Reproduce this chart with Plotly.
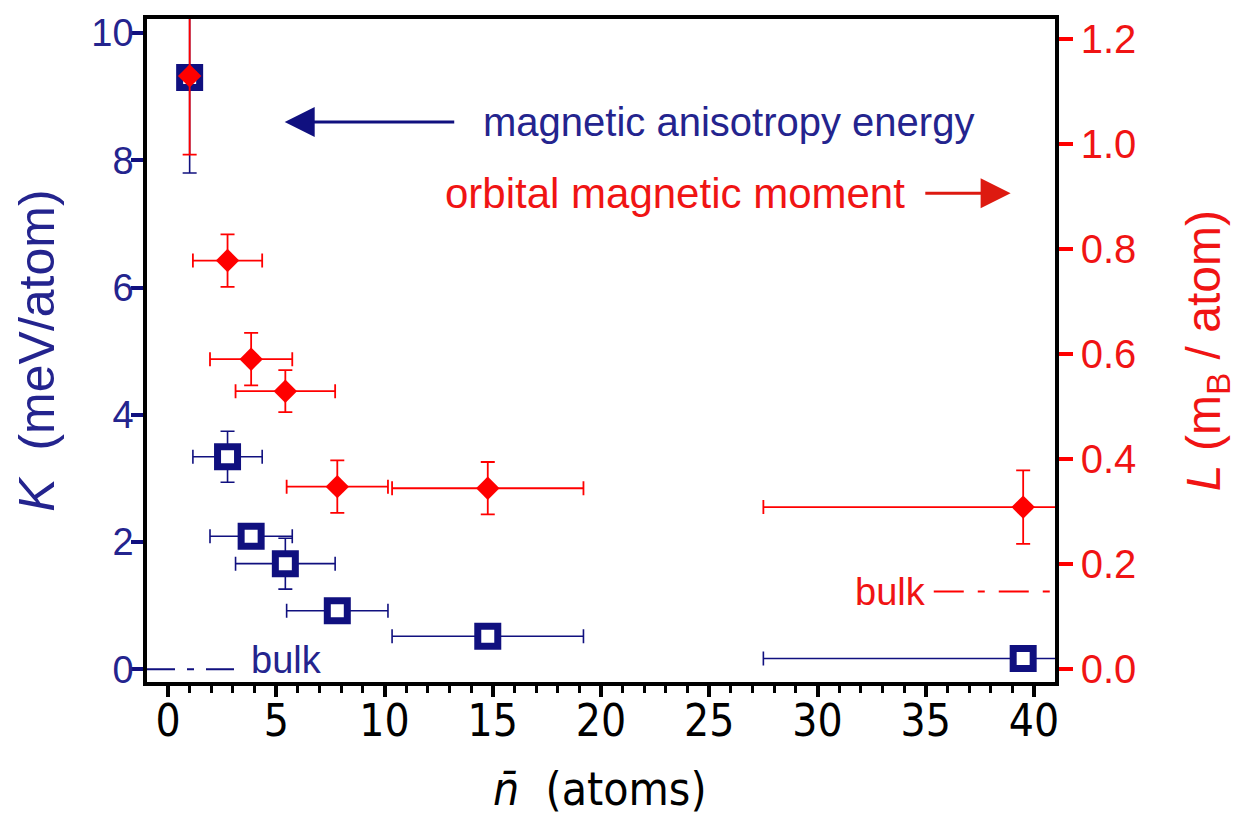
import plotly.graph_objects as go

# Cluster size n-bar (atoms) with size spread
n_bar = [1.0, 2.75, 3.84, 5.42, 7.82, 14.77, 39.5]
n_err = [0.0, 1.6, 1.9, 2.3, 2.34, 4.42, 12.0]

# Magnetic anisotropy energy K (meV/atom)
K = [9.3, 3.34, 2.09, 1.66, 0.92, 0.52, 0.17]
K_err = [1.5, 0.4, 0.0, 0.4, 0.0, 0.0, 0.0]

# Orbital magnetic moment L (mB/atom)
L = [1.13, 0.778, 0.59, 0.529, 0.347, 0.344, 0.308]
L_err = [0.15, 0.05, 0.05, 0.04, 0.05, 0.05, 0.07]

# Bulk reference values
bulk_K = 0.0
bulk_L = 0.147
bulk_K_x = [-0.97, 3.13]
bulk_L_x = [35.37, 40.97]

x_ticks = [0, 5, 10, 15, 20, 25, 30, 35, 40]
K_ticks = [0, 2, 4, 6, 8, 10]
L_ticks = [0.0, 0.2, 0.4, 0.6, 0.8, 1.0, 1.2]

NAVY = "#10107f"
BLUE_TXT = "#24248e"
RED = "#ff0000"
RED_TXT = "#f01414"
RED_ARROW = "#dd1a10"

FONT = "Liberation Sans, Arial, Helvetica, sans-serif"
NARROW = "Liberation Sans Narrow, Arial Narrow, DejaVu Sans Condensed, sans-serif"

fig = go.Figure()

# bulk reference lines
fig.add_trace(go.Scatter(
    x=bulk_K_x, y=[bulk_K, bulk_K], mode="lines",
    line=dict(color=NAVY, width=2, dash="28px,12px,7px,12px"),
    yaxis="y", showlegend=False, hoverinfo="skip"))
fig.add_trace(go.Scatter(
    x=bulk_L_x, y=[bulk_L, bulk_L], mode="lines",
    line=dict(color=RED, width=2, dash="30px,14px,7px,14px"),
    yaxis="y2", showlegend=False, hoverinfo="skip"))

# K: open navy squares
fig.add_trace(go.Scatter(
    x=n_bar, y=K, mode="markers", yaxis="y", showlegend=False,
    marker=dict(symbol="square", size=20, color="white",
                line=dict(color=NAVY, width=7)),
    error_x=dict(type="data", array=n_err, color=NAVY, thickness=1.6, width=7),
    error_y=dict(type="data", array=K_err, color=NAVY, thickness=1.6, width=7),
))

# L: red diamonds
fig.add_trace(go.Scatter(
    x=n_bar, y=L, mode="markers", yaxis="y2", showlegend=False,
    marker=dict(symbol="diamond", size=18, color=RED, line=dict(width=0)),
    error_x=dict(type="data", array=n_err, color=RED, thickness=1.8, width=7),
    error_y=dict(type="data", array=L_err, color=RED, thickness=1.8, width=7),
))

annotations = [
    # arrows pointing to their axes
    dict(x=5.39, y=8.6, ax=13.29, ay=8.6, xref="x", yref="y", axref="x", ayref="y",
         text="", showarrow=True, arrowhead=2, arrowwidth=3, arrowsize=2.0,
         arrowcolor=NAVY),
    dict(x=38.92, y=7.48, ax=34.91, ay=7.48, xref="x", yref="y", axref="x", ayref="y",
         text="", showarrow=True, arrowhead=2, arrowwidth=3, arrowsize=2.0,
         arrowcolor=RED_ARROW),
    dict(x=14.44, y=8.6, xref="x", yref="y", text="magnetic anisotropy energy",
         showarrow=False, xanchor="left", yanchor="middle",
         font=dict(family=FONT, size=40, color=BLUE_TXT)),
    dict(x=12.71, y=7.48, xref="x", yref="y", text="orbital magnetic moment",
         showarrow=False, xanchor="left", yanchor="middle",
         font=dict(family=FONT, size=42, color=RED_TXT)),
    dict(x=3.74, y=0.14, xref="x", yref="y", text="bulk",
         showarrow=False, xanchor="left", yanchor="middle",
         font=dict(family=FONT, size=38, color=BLUE_TXT)),
    dict(x=31.63, y=1.22, xref="x", yref="y", text="bulk",
         showarrow=False, xanchor="left", yanchor="middle",
         font=dict(family=FONT, size=38, color=RED_TXT)),
    # axis titles
    dict(x=-0.122, y=0.5, xref="paper", yref="paper",
         text="<i>K</i>  (meV/atom)", textangle=-90, showarrow=False,
         xanchor="center", yanchor="middle",
         font=dict(family=FONT, size=50, color=BLUE_TXT)),
    dict(x=1.167, y=0.5, xref="paper", yref="paper",
         text="<i>L</i> (m<sub>B</sub> / atom)", textangle=-90, showarrow=False,
         xanchor="center", yanchor="middle",
         font=dict(family=FONT, size=48, color=RED_TXT)),
    dict(x=0.499, y=-0.162, xref="paper", yref="paper",
         text="<i>n\u0304</i>  (atoms)", showarrow=False,
         xanchor="center", yanchor="middle",
         font=dict(family=NARROW, size=46, color="black")),
]

fig.update_layout(
    width=1238, height=818,
    margin=dict(l=147, r=183, t=15, b=136),
    paper_bgcolor="white", plot_bgcolor="white",
    showlegend=False,
    annotations=annotations,
    xaxis=dict(
        range=[-0.97, 40.97], tickvals=x_ticks, ticks="outside",
        ticklen=11, tickwidth=3.5, tickcolor="black",
        showline=True, linecolor="black", linewidth=3.5, mirror=True,
        showgrid=False, zeroline=False, ticklabelstandoff=-14,
        tickfont=dict(family=NARROW, size=44, color="black"),
        minor=dict(dtick=1, ticks="outside", ticklen=7, tickwidth=3, tickcolor="black",
                   showgrid=False),
    ),
    yaxis=dict(
        range=[-0.2, 10.22], tickvals=K_ticks, ticks="outside",
        ticklen=12, tickwidth=3.5, tickcolor=NAVY,
        showline=True, linecolor="black", linewidth=3.5,
        showgrid=False, zeroline=False, ticklabelstandoff=-10,
        tickfont=dict(family=FONT, size=38, color=BLUE_TXT),
    ),
    yaxis2=dict(
        range=[-0.0254, 1.2385], tickvals=L_ticks, tickformat=".1f",
        overlaying="y", side="right", ticks="outside",
        ticklen=14, tickwidth=4, tickcolor=RED,
        showline=True, linecolor="black", linewidth=3.5,
        showgrid=False, zeroline=False,
        tickfont=dict(family=FONT, size=40, color=RED_TXT),
    ),
)

fig.write_html("out.html")
